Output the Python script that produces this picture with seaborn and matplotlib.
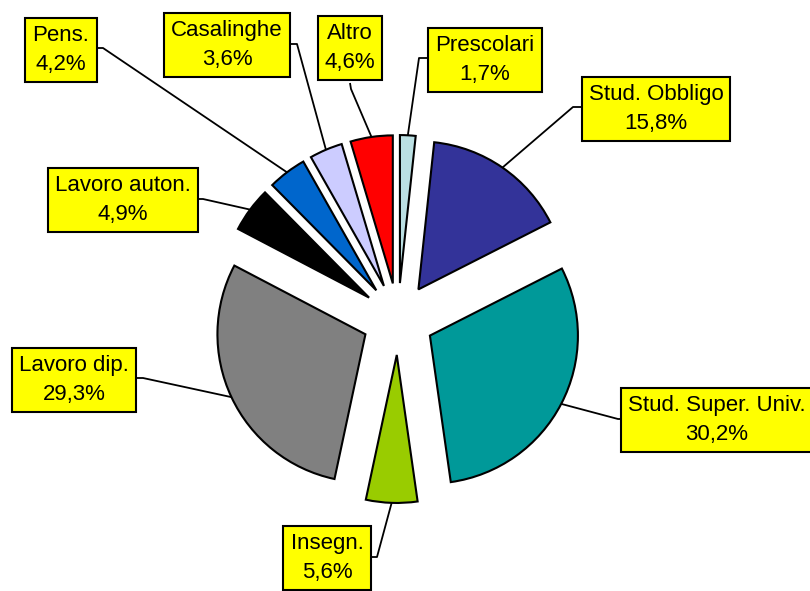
import numpy as np
import matplotlib.pyplot as plt
import seaborn as sns

sns.set_theme(style="white")
plt.rcParams['font.family'] = ['Liberation Sans', 'DejaVu Sans']

# data (clockwise from 12 o'clock)
labels = ['Prescolari', 'Stud. Obbligo', 'Stud. Super. Univ.', 'Insegn.',
          'Lavoro dip.', 'Lavoro auton.', 'Pens.', 'Casalinghe', 'Altro']
values = [1.7, 15.8, 30.2, 5.6, 29.3, 4.9, 4.2, 3.6, 4.6]
colors = ['#BBE0E3', '#333399', '#009999', '#99CC00', '#808080',
          '#000000', '#0066CC', '#CCCCFF', '#FF0000']

# layout in image pixels: box centre, box attach point, knee
box_pos = {
    'Prescolari': ((485, 60), (429, 58), (419, 58)),
    'Stud. Obbligo': ((656, 109), (583, 107), (573, 107)),
    'Stud. Super. Univ.': ((717, 420), (625, 419), (618, 419)),
    'Insegn.': ((327, 558), (368, 557), (377, 557)),
    'Lavoro dip.': ((74, 380), (135, 378), (143, 378)),
    'Lavoro auton.': ((123, 200), (195, 199), (203, 199)),
    'Pens.': ((61, 50), (95, 48), (103, 48)),
    'Casalinghe': ((227, 45), (289, 44), (297, 44)),
    'Altro': ((350, 48), (350, 83), (351, 89)),
}

W, H = 810, 591
cx, cy, R = 398, 319, 148
explode_frac = 0.243


def px(x, y):
    return (x - cx) / R, (cy - y) / R


fig = plt.figure(figsize=(W / 100, H / 100), dpi=100)
ax = fig.add_axes([0, 0, 1, 1])

wedges, _ = ax.pie(values, colors=colors, startangle=90, counterclock=False,
                   explode=[explode_frac] * len(values), radius=1,
                   wedgeprops=dict(edgecolor='black', linewidth=1.5))
ax.set_aspect('auto')
ax.set_xlim(-cx / R, (W - cx) / R)
ax.set_ylim((cy - H) / R, cy / R)
ax.axis('off')

for w, lab, val in zip(wedges, labels, values):
    mid = np.deg2rad((w.theta1 + w.theta2) / 2)
    ox, oy = w.center
    arc = (ox + np.cos(mid), oy + np.sin(mid))
    (bx, by), att, knee = box_pos[lab]
    a = px(*att)
    k = px(*knee)
    ax.plot([a[0], k[0], arc[0]], [a[1], k[1], arc[1]], color='black',
            lw=1.3, zorder=1, solid_capstyle='butt')
    tx, ty = px(bx, by)
    txt = f"{lab}\n{str(val).replace('.', ',')}%"
    ax.text(tx, ty, txt, ha='center', va='center', fontsize=16,
            linespacing=1.5, color='black', zorder=5,
            bbox=dict(boxstyle='square,pad=0.32', facecolor='#FFFF00',
                      edgecolor='black', linewidth=1.5))

fig.savefig('out.png', dpi=100)
